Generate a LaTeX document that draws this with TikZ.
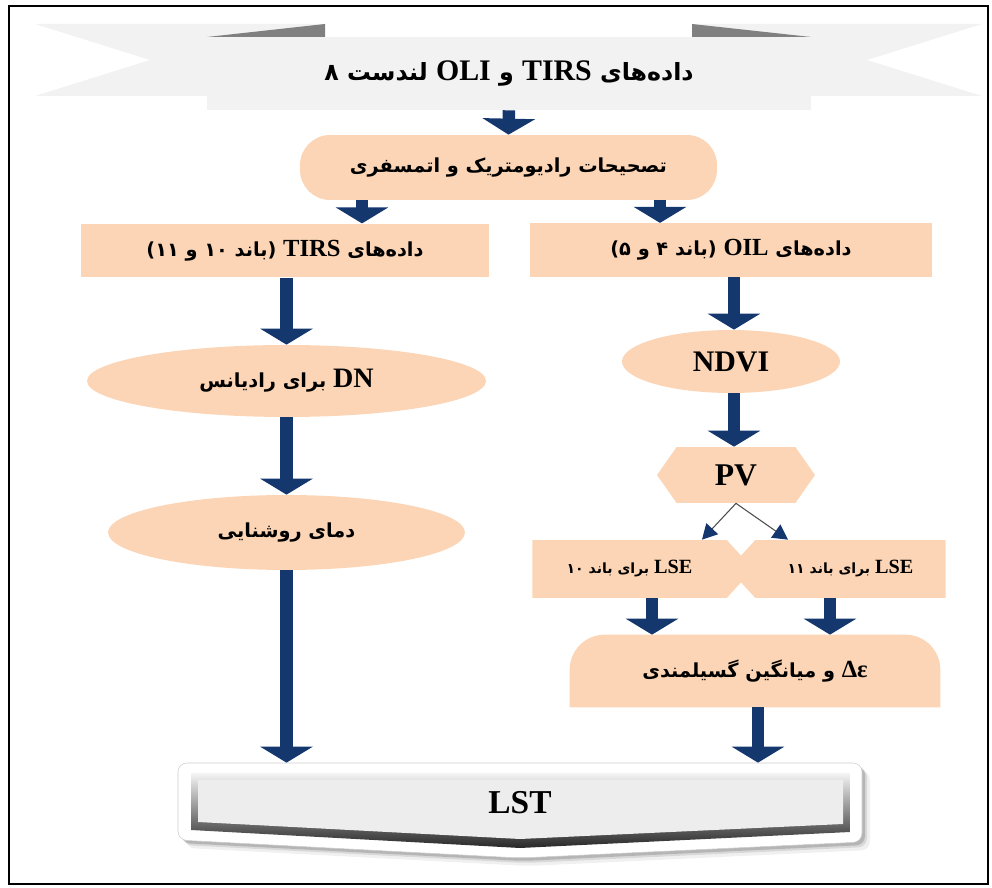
\documentclass[tikz,border=0pt]{standalone}
\usepackage{fontspec}
\setmainfont{Liberation Serif}
\newfontfamily\fafont[Script=Arabic]{DejaVu Sans}
\TeXXeTstate=1
\usetikzlibrary{arrows.meta,positioning,calc,shapes.geometric,shapes.symbols,backgrounds}
\definecolor{peach}{RGB}{251,213,181}
\definecolor{navyarrow}{RGB}{20,55,110}
\definecolor{ribbongray}{RGB}{242,242,242}
\definecolor{foldgray}{RGB}{128,128,128}
\newcommand{\fa}[1]{{\fafont\bfseries\beginR #1\endR}}
\newcommand{\lat}[2][14]{{\rmfamily\bfseries\fontsize{#1}{#1}\selectfont\beginL #2\endL}}

\begin{document}
\begin{tikzpicture}[x=0.02cm,y=-0.02cm,font=\fontsize{11}{13}\selectfont,
 box/.style={fill=peach,inner sep=0pt,minimum height=1.07cm},
 oval/.style={ellipse,fill=peach,inner sep=0pt},
 sig/.style={signal,fill=peach,inner sep=0pt,signal pointer angle=95,minimum height=1.16cm},
 bigarr/.style={-{Triangle[width=1.04cm,length=0.32cm]},line width=0.25cm,draw=navyarrow},
 thinarr/.style={-{Triangle[width=0.32cm,length=0.3cm,color=navyarrow]},draw=gray!60!black,line width=0.6pt}]
\useasboundingbox (0,0) rectangle (992,888);
\draw[line width=1.6pt] (9,6) rectangle (988,884);
% banner and first step
\node[fill=ribbongray,inner sep=0pt,minimum width=12.08cm,minimum height=1.46cm,font=\fontsize{13.5}{16}\selectfont] (title) at (509,73.5) {\fa{داده‌های \lat[17]{TIRS} و \lat[17]{OLI} لندست ۸}};
\node[box,rounded corners=0.6cm,minimum width=8.34cm,minimum height=1.3cm] (corr) at (508.5,167.5) {\fa{تصحیحات رادیومتریک و اتمسفری}};
% thermal branch
\node[box,minimum width=8.16cm] (tirs) at (285,250.5) {\fa{داده‌های \lat{TIRS} (باند ۱۰ و ۱۱)}};
\node[oval,minimum width=7.98cm,minimum height=1.44cm] (dn) at (286.5,381) {\fa{\lat[16]{DN} برای رادیانس}};
\node[oval,minimum width=7.14cm,minimum height=1.5cm] (temp) at (286.5,532.5) {\fa{دمای روشنایی}};
% emissivity branch
\node[box,minimum width=8.04cm] (oil) at (731,250) {\fa{داده‌های \lat{OIL} (باند ۴ و ۵)}};
\node[oval,minimum width=4.36cm,minimum height=1.26cm] (ndvi) at (731,361.5) {\lat[17]{NDVI}};
\node[sig,signal to=east and west,signal pointer angle=110,minimum width=3.16cm,minimum height=1.12cm] (pv) at (736,475) {\lat[18]{PV}};
\node[sig,signal to=east,minimum width=4.42cm,font=\fontsize{8}{10}\selectfont] (lse10) at (629.5,569) {\fa{\lat[11.5]{LSE} برای باند ۱۰}};
\node[sig,signal to=west,minimum width=4.34cm,font=\fontsize{8}{10}\selectfont] (lse11) at (850.5,569) {\fa{\lat[11.5]{LSE} برای باند ۱۱}};
\node[inner sep=0pt,minimum width=7.4cm,minimum height=1.44cm] (eps) at (755,671) {\fa{\lat[14]{Δε} و میانگین گسیلمندی}};
\node[inner sep=0pt,minimum width=13.68cm,minimum height=1.58cm] (lst) at (520,802.5) {\lat[19]{LST}};
% arrows
\draw[bigarr] (title.south) -- (corr.north);
\draw[bigarr] (corr.south -| 362,0) -- (tirs.north -| 362,0);
\draw[bigarr] (corr.south -| 660,0) -- (oil.north -| 660,0);
\draw[bigarr] (tirs.south -| dn.north) -- (dn.north);
\draw[bigarr] (dn.south) -- (temp.north);
\draw[bigarr] (temp.south) -- (lst.north -| temp.south);
\draw[bigarr] (oil.south -| 734,0) -- (ndvi.north -| 734,0);
\draw[bigarr] (ndvi.south -| 734,0) -- (pv.north -| 734,0);
\draw[thinarr] (pv.south) -- (lse10.north -| 702,0);
\draw[thinarr] (pv.south) -- (lse11.north -| 788,0);
\draw[bigarr] (lse10.south -| 652,0) -- (eps.north -| 652,0);
\draw[bigarr] (lse11.south -| 830,0) -- (eps.north -| 830,0);
\draw[bigarr] (eps.south -| 758,0) -- (lst.north -| 758,0);
\begin{scope}[on background layer]
 \fill[ribbongray] (35,24) -- (325,24) -- (325,96) -- (35,96) -- (150,60) -- cycle;
 \fill[ribbongray] (692,24) -- (982,24) -- (867,60) -- (982,96) -- (692,96) -- cycle;
 \fill[foldgray] (207,37) -- (325,24) -- (325,37) -- cycle;
 \fill[foldgray] (692,24) -- (811,37) -- (692,37) -- cycle;
 \fill[peach,rounded corners=0.7cm] (eps.south west) -- (eps.north west) -- (eps.north east) -- (eps.south east);
 % LST plate
 \foreach \s/\o in {8/0.06,5/0.1,3/0.16}
  \fill[black,opacity=\o,rounded corners=5pt,shift={(\s,\s)}] (178,763) -- (862,763) -- (862,842) -- (520,858) -- (178,840) -- cycle;
 \fill[white,rounded corners=5pt] (178,763) -- (862,763) -- (862,842) -- (520,858) -- (178,840) -- cycle;
 \draw[gray!40,line width=0.3pt,rounded corners=5pt] (178,763) -- (862,763) -- (862,842) -- (520,858) -- (178,840) -- cycle;
 \shade[top color=gray!8,bottom color=black!85] (191,773) -- (850,773) -- (850,832) -- (520,848) -- (191,830) -- cycle;
 \fill[gray!14] (198,780) -- (843,780) -- (843,824) -- (520,839) -- (198,822) -- cycle;
\end{scope}
\end{tikzpicture}
\end{document}
